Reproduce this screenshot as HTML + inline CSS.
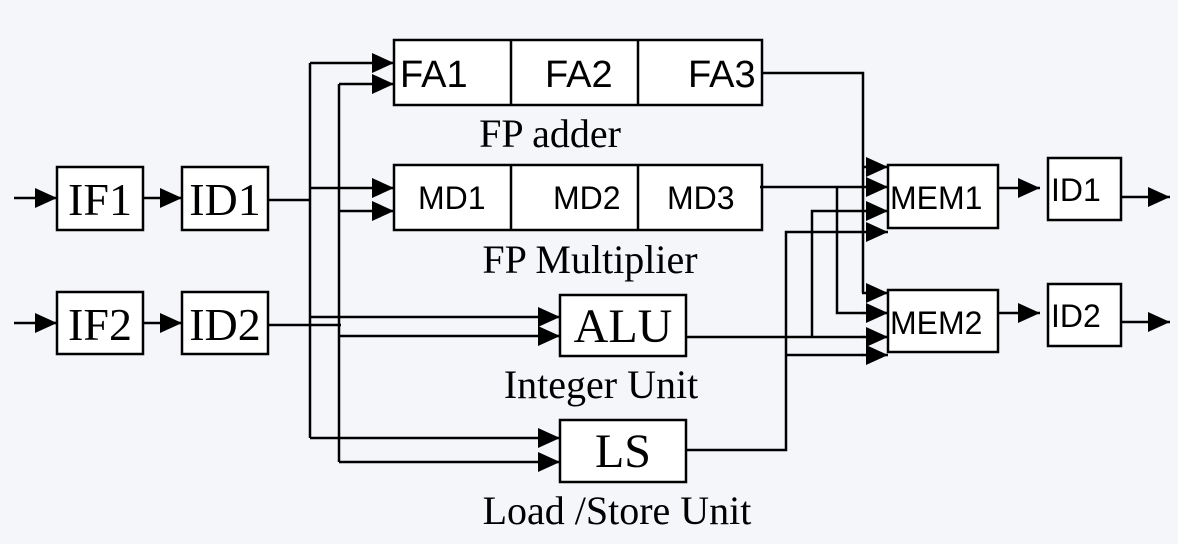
<!DOCTYPE html>
<html><head><style>
html,body{margin:0;padding:0;background:#f3f5f9;}
svg{display:block}
.b{fill:#fff;stroke:#000;stroke-width:2.5}
.l{stroke:#000;stroke-width:2.5;fill:none}
.s{font-family:"Liberation Serif",serif;font-size:46px}
.a{font-family:"Liberation Sans",sans-serif;font-size:32px}
.c{font-family:"Liberation Serif",serif;font-size:40px}
</style></head><body>
<svg width="1178" height="544" viewBox="0 0 1178 544">
<defs>
<marker id="ah" markerWidth="22" markerHeight="20" refX="22" refY="10" orient="auto" markerUnits="userSpaceOnUse"><path d="M0,0 L22,10 L0,20z"/></marker>
</defs>
<rect width="1178" height="544" fill="#f4f6fa"/>
<rect class="b" x="57" y="167" width="86" height="63"/><text class="s" x="100" y="215" text-anchor="middle">IF1</text>
<rect class="b" x="182" y="167" width="86" height="63"/><text class="s" x="225" y="215" text-anchor="middle">ID1</text>
<rect class="b" x="57" y="292" width="86" height="62"/><text class="s" x="100" y="340" text-anchor="middle">IF2</text>
<rect class="b" x="182" y="292" width="86" height="62"/><text class="s" x="225" y="340" text-anchor="middle">ID2</text>
<rect class="b" x="394" y="40" width="368" height="65"/><line class="l" x1="511" y1="40" x2="511" y2="105"/><line class="l" x1="638" y1="40" x2="638" y2="105"/>
<text class="a" x="400" y="87" style="font-size:38px">FA1</text><text class="a" x="545" y="87" style="font-size:38px">FA2</text><text class="a" x="688" y="87" style="font-size:38px">FA3</text>
<rect class="b" x="394" y="165" width="368" height="65"/><line class="l" x1="511" y1="165" x2="511" y2="230"/><line class="l" x1="638" y1="165" x2="638" y2="230"/>
<text class="a" x="418" y="209">MD1</text><text class="a" x="553" y="209">MD2</text><text class="a" x="667" y="209">MD3</text>
<rect class="b" x="560" y="295" width="126" height="61"/><text class="s" x="623" y="342" text-anchor="middle" style="font-size:48px">ALU</text>
<rect class="b" x="560" y="420" width="126" height="62"/><text class="s" x="623" y="467" text-anchor="middle" style="font-size:48px">LS</text>
<rect class="b" x="888" y="165" width="110" height="63"/><text class="a" x="890" y="209">MEM1</text>
<rect class="b" x="888" y="290" width="110" height="62"/><text class="a" x="890" y="334">MEM2</text>
<rect class="b" x="1048" y="158" width="73" height="62"/><text class="a" x="1051" y="201">ID1</text>
<rect class="b" x="1048" y="284" width="73" height="62"/><text class="a" x="1051" y="327">ID2</text>
<text class="c" x="550" y="147" text-anchor="middle">FP adder</text>
<text class="c" x="590" y="273" text-anchor="middle">FP Multiplier</text>
<text class="c" x="601" y="398" text-anchor="middle">Integer Unit</text>
<text class="c" x="617" y="524" text-anchor="middle">Load /Store Unit</text>
<g class="l" marker-end="url(#ah)">
<line x1="14" y1="198" x2="57" y2="198"/><line x1="143" y1="198" x2="182" y2="198"/>
<line x1="14" y1="323" x2="57" y2="323"/><line x1="143" y1="323" x2="182" y2="323"/>
<line x1="998" y1="188" x2="1040" y2="188"/><line x1="998" y1="313" x2="1040" y2="313"/>
<line x1="1121" y1="197" x2="1170" y2="197"/><line x1="1121" y1="322" x2="1170" y2="322"/>
</g>
<line class="l" x1="268" y1="200" x2="310" y2="200"/>
<line class="l" x1="268" y1="325" x2="341" y2="325"/>
<line class="l" x1="310" y1="63" x2="310" y2="438"/>
<line class="l" x1="339" y1="84" x2="339" y2="462"/>
<g class="l" marker-end="url(#ah)">
<line x1="310" y1="63" x2="394" y2="63"/>
<line x1="339" y1="84" x2="394" y2="84"/>
<line x1="310" y1="188" x2="394" y2="188"/>
<line x1="339" y1="211" x2="394" y2="211"/>
<line x1="310" y1="317" x2="560" y2="317"/>
<line x1="339" y1="336" x2="560" y2="336"/>
<line x1="310" y1="438" x2="560" y2="438"/>
<line x1="339" y1="462" x2="560" y2="462"/>
</g>
<polyline class="l" points="762,73 863,73 863,293"/>
<line class="l" x1="760" y1="187" x2="863" y2="187"/>
<polyline class="l" points="837,187 837,313 863,313"/>
<line class="l" x1="686" y1="337" x2="863" y2="337"/>
<polyline class="l" points="812,337 812,211 863,211"/>
<polyline class="l" points="686,450 786,450 786,232 863,232"/>
<line class="l" x1="786" y1="355" x2="863" y2="355"/>
<g class="l" marker-end="url(#ah)">
<line x1="862" y1="167" x2="888" y2="167"/>
<line x1="862" y1="187" x2="888" y2="187"/>
<line x1="862" y1="211" x2="888" y2="211"/>
<line x1="862" y1="232" x2="888" y2="232"/>
<line x1="862" y1="293" x2="888" y2="293"/>
<line x1="862" y1="313" x2="888" y2="313"/>
<line x1="862" y1="337" x2="888" y2="337"/>
<line x1="862" y1="355" x2="888" y2="355"/>
</g>
</svg>
</body></html>
